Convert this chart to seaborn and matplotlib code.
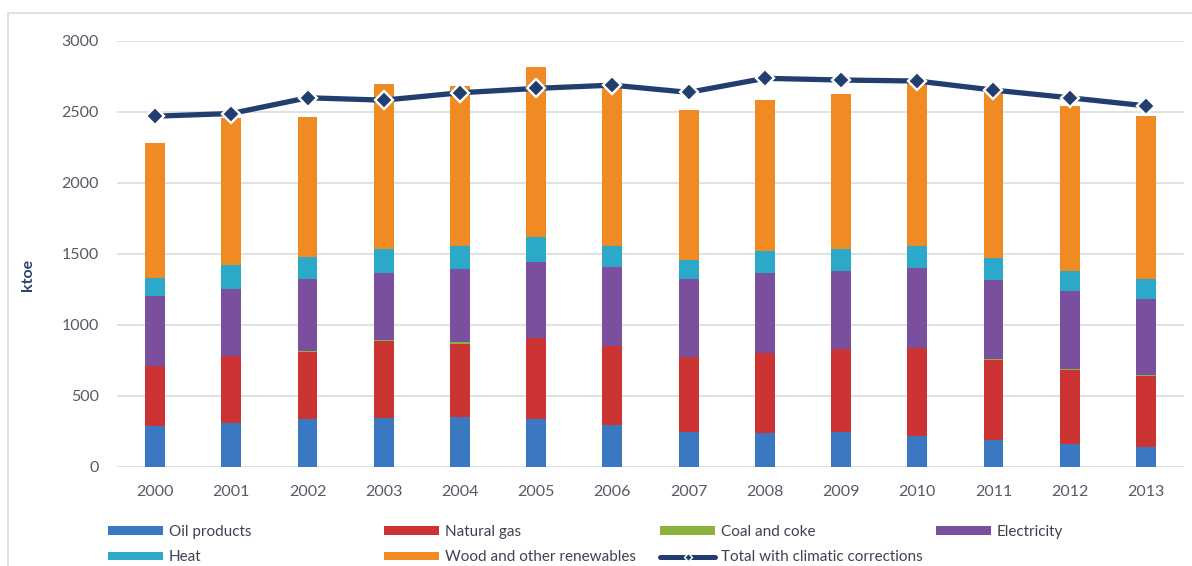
import matplotlib
matplotlib.use("Agg")
import matplotlib.pyplot as plt
from matplotlib.patches import Patch, Rectangle
from matplotlib.lines import Line2D
import numpy as np
import pandas as pd
import seaborn as sns

years = ["2000", "2001", "2002", "2003", "2004", "2005", "2006",
         "2007", "2008", "2009", "2010", "2011", "2012", "2013"]
oil = [290, 311, 337, 342, 349, 337, 295, 243, 236, 248, 219, 189, 158, 141]
gas = [418, 467, 472, 543, 519, 567, 554, 528, 562, 578, 614, 566, 526, 501]
coal = [5, 5, 5, 8, 8, 6, 4, 3, 3, 3, 3, 2, 2, 2]
electricity = [490, 472, 507, 471, 516, 536, 551, 547, 563, 551, 561, 557, 552, 541]
heat = [130, 165, 154, 169, 165, 170, 149, 137, 158, 153, 160, 154, 142, 141]
wood = [951, 1040, 991, 1161, 1128, 1199, 1127, 1059, 1061, 1097, 1173, 1172, 1163, 1147]
total_climatic = [2470, 2489, 2600, 2583, 2635, 2666, 2689, 2638, 2737, 2725, 2718, 2654, 2600, 2543]
yticks = [0, 500, 1000, 1500, 2000, 2500, 3000]

series_names = ["Oil products", "Natural gas", "Coal and coke", "Electricity",
                "Heat", "Wood and other renewables"]
series_vals = [oil, gas, coal, electricity, heat, wood]
colors = ["#3B78C2", "#CB3432", "#8BB33C", "#7A4F9E", "#2CA8C8", "#F08A22"]
line_color = "#213E6E"
line_name = "Total with climatic corrections"

df = pd.DataFrame({"year": years})
cum = np.zeros(len(years))
for name, vals in zip(series_names, series_vals):
    cum = cum + np.array(vals, dtype=float)
    df[name] = cum

sns.set_theme(style="white")
fam = ["Lato", "DejaVu Sans"]
plt.rcParams["font.family"] = fam

W, H = 1192, 566
fig = plt.figure(figsize=(W / 100, H / 100), dpi=100)
ax_l, ax_r, ax_t, ax_b = 117, 1184, 41, 466.7
ax = fig.add_axes([ax_l / W, 1 - ax_b / H, (ax_r - ax_l) / W, (ax_b - ax_t) / H])

# stacked bars: draw cumulative totals from top layer downwards
for name, col in reversed(list(zip(series_names, colors))):
    sns.barplot(data=df, x="year", y=name, color=col, saturation=1,
                width=0.26, linewidth=0, ax=ax, order=years, zorder=2)

sns.pointplot(x=years, y=total_climatic, color=line_color, markers="D",
              linestyles="-", ax=ax, order=years, linewidth=3.8,
              markersize=9.5, markeredgecolor="white", markeredgewidth=1.7,
              markerfacecolor=line_color, zorder=5)

ax.set_xlim(-0.5, len(years) - 0.5)
ax.set_ylim(0, 3000)
ax.set_yticks(yticks)
ax.set_yticklabels([str(v) for v in yticks])
ax.yaxis.grid(True, color="#D9D9D9", linewidth=1.1, zorder=0)
ax.xaxis.grid(False)
ax.set_axisbelow(True)
for s in ax.spines.values():
    s.set_visible(False)
ax.tick_params(axis="both", length=0, labelsize=11.5, labelcolor="#555A66")
ax.tick_params(axis="y", pad=13)
ax.tick_params(axis="x", pad=13)
ax.set_xlabel("")
ax.set_ylabel("ktoe", fontsize=11.5, fontweight="bold", color="#2A4470")
ax.yaxis.set_label_coords(-0.077, 0.45)

# legend: four columns placed at fixed positions
handles = {n: Patch(facecolor=c, edgecolor="none") for n, c in zip(series_names, colors)}
handles[line_name] = Line2D([0], [0], color=line_color, lw=3.6, marker="D",
                            markersize=4, markerfacecolor=line_color,
                            markeredgecolor="white", markeredgewidth=1)
columns = [
    (108, ["Oil products", "Heat"]),
    (384, ["Natural gas", "Wood and other renewables"]),
    (660, ["Coal and coke", line_name]),
    (936, ["Electricity"]),
]
for xpix, names in columns:
    fig.legend([handles[n] for n in names], names, loc="upper left",
               bbox_to_anchor=(xpix / W, 1 - 525 / H), frameon=False,
               fontsize=11, handlelength=3.6, handleheight=0.45,
               handletextpad=0.4, labelspacing=0.75, borderaxespad=0,
               borderpad=0, labelcolor="#3D4250")

fig.patches.append(Rectangle((8 / W, -0.1), 1.2, 1 - 13 / H + 0.1,
                             transform=fig.transFigure, fill=False,
                             edgecolor="#DCDCDC", linewidth=1.2))

fig.savefig("out.png", dpi=100, facecolor="white")
